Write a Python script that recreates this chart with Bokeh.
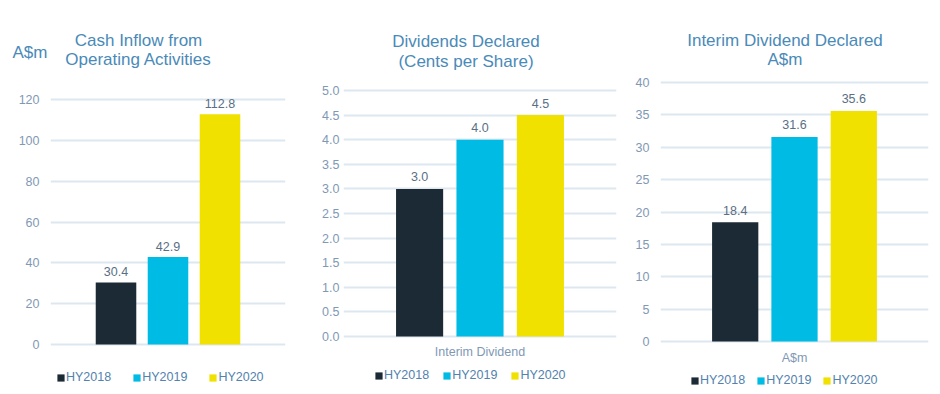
from bokeh.plotting import figure
from bokeh.layouts import row, column
from bokeh.models import (ColumnDataSource, FactorRange, Range1d, SingleIntervalTicker,
                          NumeralTickFormatter, LabelSet, Label, Legend, LegendItem)
from bokeh.core.properties import value
from bokeh.embed import file_html
from bokeh.resources import INLINE

# ---- data ----
years = ["HY2018", "HY2019", "HY2020"]
bar_colors = ["#1c2a35", "#00bce4", "#f0e100"]

cash_inflow = [30.4, 42.9, 112.8]          # A$m
dividends_cps = [3.0, 4.0, 4.5]            # cents per share
interim_dividend = [18.4, 31.6, 35.6]      # A$m

panel_titles = [["Cash Inflow from", "Operating Activities"],
                ["Dividends Declared", "(Cents per Share)"],
                ["Interim Dividend Declared", "A$m"]]
category_labels = ["", "Interim Dividend", "A$m"]
y_ends = [120, 5.0, 40]
y_steps = [20, 0.5, 5]
y_formats = ["0", "0.0", "0"]
unit_label = "A$m"

# ---- styles ----
FONT = "Liberation Sans"
TITLE_C = "#4a8ab8"
TICK_C = "#7f99b5"
VALUE_C = "#5a6f85"
LEGEND_C = "#5282ad"
GRID_C = "#dde7ef"
TOTAL_W, TOTAL_H = 940, 392
HDR = 72                      # header strip holding the panel titles
PANEL_H = TOTAL_H - HDR

# layout in page pixels: figure width, frame left/right, top/zero-line position of the value
# scale, extra frame above the top tick, legend & category-label placement
geoms = [
    dict(width=300, left=50, right=15, ftop=99, fbot=344, extra=8, standoff=7,
         title_x=138, title_y=[40, 59], voff=10.5, legx=6, leg_bottom=8, spacing=21,
         cat_y=351),
    dict(width=325, left=43, right=9, ftop=90, fbot=336, extra=4, standoff=0,
         title_x=465.5, title_y=[41, 61], voff=12, legx=31, leg_bottom=10, spacing=13,
         cat_y=351),
    dict(width=315, left=35, right=12, ftop=82, fbot=341, extra=4, standoff=7,
         title_x=784.5, title_y=[39.5, 59], voff=12, legx=30, leg_bottom=5, spacing=11,
         cat_y=357),
]


def make_panel(values, cat_label, y_end, y_step, fmt, g):
    src = ColumnDataSource(dict(
        year=years, value=values, color=bar_colors,
        text=[f"{v:.1f}" for v in values]))
    px_per_unit = (g["fbot"] - g["ftop"]) / y_end
    y_top = y_end + g["extra"] / px_per_unit
    y_bottom = -(TOTAL_H - g["fbot"]) / px_per_unit
    p = figure(width=g["width"], height=PANEL_H, output_backend="svg", toolbar_location=None,
               x_range=FactorRange(*years, range_padding=0.76, range_padding_units="absolute",
                                   factor_padding=0.0),
               y_range=Range1d(y_bottom, y_top),
               x_axis_location=None,
               min_border_left=g["left"], min_border_right=g["right"],
               min_border_top=g["ftop"] - g["extra"] - HDR, min_border_bottom=0,
               frame_align=False)
    p.outline_line_color = None
    p.background_fill_color = "white"
    p.border_fill_color = "white"

    r = p.vbar(x="year", top="value", width=0.78, fill_color="color", line_color=None,
               source=src)

    p.add_layout(LabelSet(x="year", y="value", text="text", source=src, y_offset=g["voff"],
                          text_align="center", text_baseline="middle", text_font=value(FONT),
                          text_font_size="12.5px", text_color=VALUE_C))

    # y axis
    ya = p.yaxis[0]
    ya.ticker = SingleIntervalTicker(interval=y_step)
    ya.formatter = NumeralTickFormatter(format=fmt)
    ya.bounds = (0, y_end)
    ya.axis_line_color = None
    ya.major_tick_line_color = None
    ya.major_tick_out = 0
    ya.major_tick_in = 0
    ya.minor_tick_line_color = None
    ya.major_label_standoff = g["standoff"]
    ya.major_label_text_font = FONT
    ya.major_label_text_font_size = "12.5px"
    ya.major_label_text_color = TICK_C

    p.ygrid.grid_line_color = GRID_C
    p.ygrid.grid_line_width = 2
    p.xgrid.grid_line_color = None

    # category label under the bars (centred on the middle bar)
    if cat_label:
        cat_src = ColumnDataSource(dict(x=[years[1]],
                                        y=[-(g["cat_y"] - g["fbot"]) / px_per_unit],
                                        text=[cat_label]))
        p.add_layout(LabelSet(x="x", y="y", text="text", source=cat_src,
                              text_align="center", text_baseline="middle",
                              text_font=value(FONT), text_font_size="12.5px",
                              text_color=TICK_C))

    legend = Legend(items=[LegendItem(label=y, renderers=[r], index=i)
                           for i, y in enumerate(years)],
                    location=(g["legx"], g["leg_bottom"]), orientation="horizontal",
                    padding=0, margin=0, spacing=g["spacing"],
                    glyph_width=9, glyph_height=9, label_standoff=1, label_height=9,
                    border_line_color=None, background_fill_alpha=0,
                    label_text_font=FONT, label_text_font_size="12.5px",
                    label_text_color=LEGEND_C)
    p.add_layout(legend, "center")
    return p


# header strip with the panel titles (coordinates = page pixels)
header = figure(width=TOTAL_W, height=HDR, output_backend="svg", toolbar_location=None,
                x_range=Range1d(0, TOTAL_W), y_range=Range1d(HDR, 0),
                x_axis_location=None, y_axis_location=None, min_border=0)
header.outline_line_color = None
header.grid.visible = False
for g, lines in zip(geoms, panel_titles):
    for line, ty in zip(lines, g["title_y"]):
        header.add_layout(Label(x=g["title_x"], y=ty, text=line, text_align="center",
                                text_baseline="middle", text_font=FONT, text_font_size="17px",
                                text_color=TITLE_C))
header.add_layout(Label(x=29.5, y=52, text=unit_label, text_align="center",
                        text_baseline="middle", text_font=FONT, text_font_size="17px",
                        text_color=TITLE_C))

panels = []
for i, vals in enumerate([cash_inflow, dividends_cps, interim_dividend]):
    panels.append(make_panel(vals, category_labels[i], y_ends[i], y_steps[i],
                             y_formats[i], geoms[i]))

layout = column(header, row(*panels, spacing=0), spacing=0)
open("out.html", "w").write(file_html(layout, INLINE))
